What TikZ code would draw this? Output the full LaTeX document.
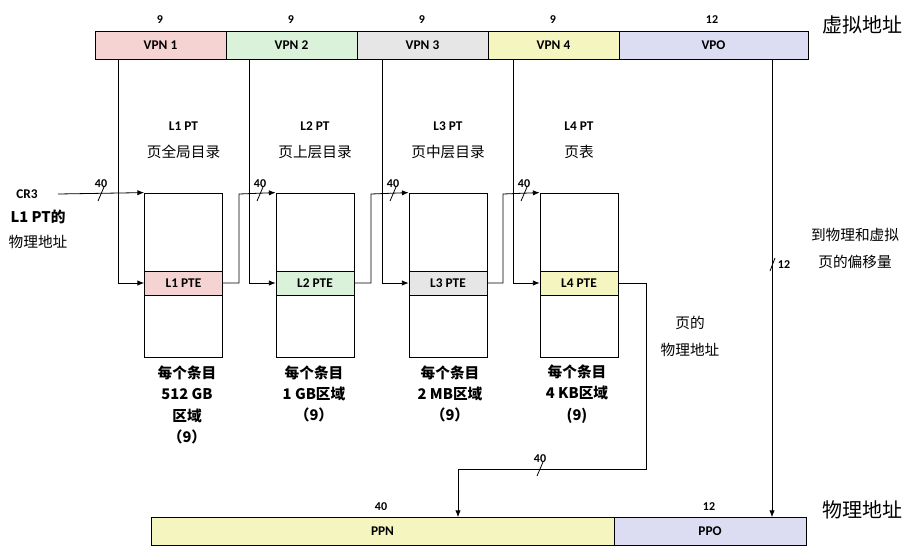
\documentclass[tikz,border=0pt]{standalone}
\usepackage{fontspec}
\setmainfont{Carlito}
\newfontfamily\cjk{Noto Sans CJK SC}
\usetikzlibrary{arrows.meta}
\definecolor{cA}{HTML}{F5D3D3}
\definecolor{cB}{HTML}{DAF2DA}
\definecolor{cC}{HTML}{E6E6E6}
\definecolor{cD}{HTML}{F5F5C0}
\definecolor{cE}{HTML}{DCDCF2}
\begin{document}
\begin{tikzpicture}[x=0.75pt,y=-0.75pt,
  fld/.style={draw,line width=0.6pt,minimum height=21pt,inner sep=0pt,font=\bfseries\fontsize{10}{12}\selectfont},
  tbl/.style={draw,line width=0.6pt,inner sep=0pt},
  pte/.style={draw,line width=0.6pt,inner sep=0pt,minimum height=18pt,font=\bfseries\fontsize{10}{12}\selectfont},
  num/.style={font=\bfseries\fontsize{9}{10}\selectfont},
  lbl/.style={font=\bfseries\fontsize{10}{12}\selectfont},
  zh/.style={font=\cjk\fontsize{11}{13}\selectfont},
  big/.style={font=\cjk\fontsize{15}{18}\selectfont},
  ln/.style={line width=0.6pt},
  ar/.style={line width=0.6pt,-{Latex[length=5pt,width=4pt]}}]
\useasboundingbox (0,0) rectangle (916,554);
% VPN bar
\node[fld,fill=cA,minimum width=98.25pt] (v1) at (160.5,45) {VPN 1};
\node[fld,fill=cB,minimum width=98.25pt] (v2) at (291.5,45) {VPN 2};
\node[fld,fill=cC,minimum width=98.25pt] (v3) at (422.5,45) {VPN 3};
\node[fld,fill=cD,minimum width=98.25pt] (v4) at (553.5,45) {VPN 4};
\node[fld,fill=cE,minimum width=141.75pt] (vo) at (713.5,45) {VPO};
\foreach \x/\t in {160/9,291/9,422/9,553/9,712/12}{\node[num] at (\x,20) {\t};}
\node[big] (va) at (862,25) {虚拟地址};
% tables
\foreach \i/\x/\c in {1/183.5/cA,2/315/cB,3/448/cC,4/579/cD}{
  \node[tbl,minimum width=58.5pt,minimum height=123pt] (t\i) at (\x,275) {};
  \node[pte,fill=\c,minimum width=58.5pt] (p\i) at (\x,283) {L\i\ PTE};
  \node[lbl] (h\i) at (\x,126) {L\i\ PT};
}
\node[zh] at (183.5,152) {页全局目录};
\node[zh] at (315,152) {页上层目录};
\node[zh] at (448,152) {页中层目录};
\node[zh] at (579,152) {页表};
% bottom texts
\node[zh,align=center,font=\cjk\bfseries\fontsize{11}{16}\selectfont] at (187,405) {每个条目\\512 GB\\区域\\（9）};
\node[zh,align=center,font=\cjk\bfseries\fontsize{11}{16}\selectfont] at (314,394) {每个条目\\1 GB区域\\（9）};
\node[zh,align=center,font=\cjk\bfseries\fontsize{11}{16}\selectfont] at (450,394) {每个条目\\2 MB区域\\（9）};
\node[zh,align=center,font=\cjk\bfseries\fontsize{11}{16}\selectfont] at (577,394) {每个条目\\4 KB区域\\(9)};
% VPN to PTE
\draw[ar] (v1.south -| 118,0) |- (p1.west);
\draw[ar] (v2.south -| 249,0) |- (p2.west);
\draw[ar] (v3.south -| 382,0) |- (p3.west);
\draw[ar] (v4.south -| 513,0) |- (p4.west);
% PTE to next table
\coordinate (c1) at (239,194);
\coordinate (c2) at (371,194);
\coordinate (c3) at (503,194);
\draw[ar] (p1.east) -| (c1) -- (t2.north west);
\draw[ar] (p2.east) -| (c2) -- (t3.north west);
\draw[ar] (p3.east) -| (c3) -- (t4.north west);
% CR3
\node[lbl] (cr) at (27,194) {CR3};
\node[zh,font=\cjk\bfseries\fontsize{11}{13}\selectfont] at (38,217) {L1 PT的};
\node[zh] at (38,242) {物理地址};
\coordinate (c0) at (58,194);
\draw[ar] (c0) -- (t1.north west);
% slashes and 40
\foreach \x/\y in {101/194,260/194,393/194,524/194,540/469}{
  \draw[ln] (\x-3,\y+7) -- (\x+3,\y-7);
  \node[num] at (\x,\y-10) {40};}
% physical
\node[fld,fill=cD,minimum width=347.25pt] (ppn) at (382.5,531.5) {PPN};
\node[fld,fill=cE,minimum width=144pt] (ppo) at (710,531.5) {PPO};
\node[num] at (381,507) {40};
\node[num] at (709,507) {12};
\node[big] (pa) at (862,510) {物理地址};
\coordinate (d1) at (646,469);
\draw[ar] (p4.east) -| (d1) -| (ppn.north -| 458,0);
\draw[ar] (vo.south -| 772,0) -- (ppo.north -| 772,0);
\draw[ln] (770,271) -- (775,258);
\node[num] at (784,265) {12};
\node[zh] at (855,235) {到物理和虚拟};
\node[zh] at (855,262) {页的偏移量};
\node[zh] at (690,323) {页的};
\node[zh] at (690,350) {物理地址};
\end{tikzpicture}
\end{document}
